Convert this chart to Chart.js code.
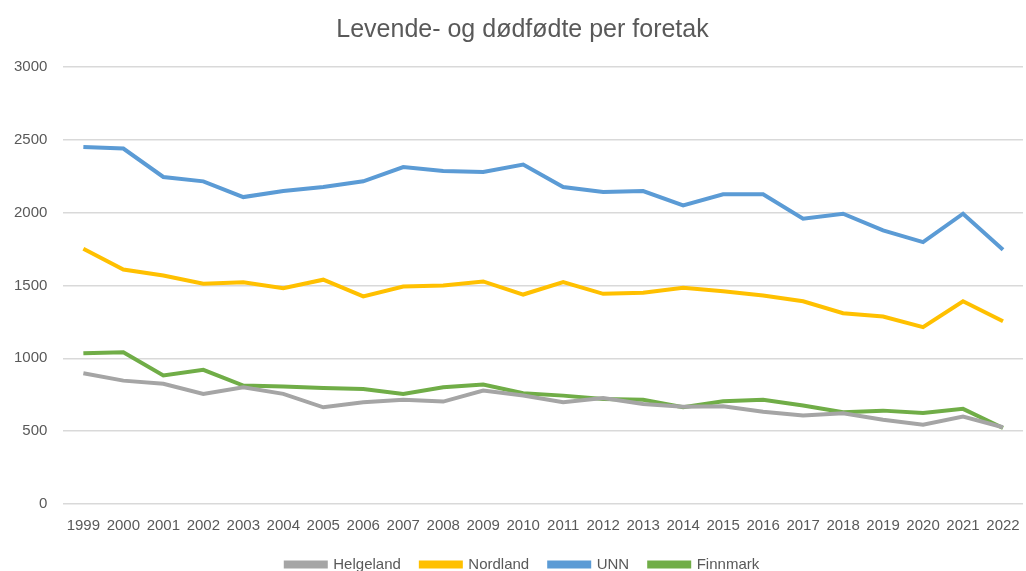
<!DOCTYPE html>
<html>
<head>
<meta charset="UTF-8">
<title>Levende- og dødfødte per foretak</title>
<script src="https://cdn.jsdelivr.net/npm/chart.js"></script>
<style>
  html, body { margin: 0; padding: 0; background: #fff; }
  #wrap { width: 1026px; height: 571px; position: relative; }
</style>
</head>
<body>
<div id="wrap"><canvas id="lineChart"></canvas></div>
<script>
    // årstall
    const years = ['1999','2000','2001','2002','2003','2004','2005','2006','2007','2008','2009','2010',
                   '2011','2012','2013','2014','2015','2016','2017','2018','2019','2020','2021','2022'];

    // fødsler per foretak
    const helgeland = [898, 847, 825, 756, 801, 756, 664, 698, 715, 703, 779, 745,
                       698, 728, 687, 668, 671, 634, 607, 623, 579, 545, 600, 527];
    const nordland  = [1752, 1610, 1569, 1512, 1523, 1482, 1540, 1425, 1493, 1500, 1528, 1438,
                       1523, 1443, 1450, 1485, 1461, 1432, 1392, 1310, 1287, 1214, 1392, 1255];
    const unn       = [2451, 2440, 2245, 2215, 2107, 2149, 2176, 2215, 2313, 2286, 2279, 2330,
                       2176, 2142, 2148, 2050, 2126, 2126, 1959, 1993, 1878, 1798, 1993, 1746];
    const finnmark  = [1035, 1042, 882, 921, 813, 806, 797, 790, 756, 801, 820, 760,
                       744, 721, 715, 664, 705, 715, 676, 630, 641, 625, 653, 522];

    const yTicks = [0, 500, 1000, 1500, 2000, 2500, 3000];

    const fontFamily = "'Liberation Sans', Arial, sans-serif";
    const textColor = '#595959';

    function serie(label, data, color) {
        return {
            label: label,
            data: data,
            borderColor: color,
            backgroundColor: color,
            borderWidth: 4,
            pointRadius: 0,
            pointHoverRadius: 0,
            tension: 0,
            fill: false
        };
    }

    // flytt tittel og legende litt mot høyre, som i Excel-figuren
    const shiftBoxes = {
        id: 'shiftBoxes',
        afterLayout: function(chart) {
            [chart.titleBlock, chart.legend].forEach(function(box) {
                if (box) { box.left += 12; box.right += 12; }
            });
        }
    };

    const config = {
        type: 'line',
        data: {
            labels: years,
            datasets: [
                serie('Helgeland', helgeland, '#A5A5A5'),
                serie('Nordland', nordland, '#FFC000'),
                serie('UNN', unn, '#5B9BD5'),
                serie('Finnmark', finnmark, '#70AD47')
            ]
        },
        options: {
            responsive: true,
            maintainAspectRatio: false,
            animation: false,
            layout: {
                padding: { left: -2, right: 3, top: 10, bottom: -11 }
            },
            plugins: {
                title: {
                    display: true,
                    text: 'Levende- og dødfødte per foretak',
                    color: textColor,
                    font: { family: fontFamily, size: 25, weight: 'normal' },
                    padding: { top: 5, bottom: 22 }
                },
                legend: {
                    position: 'bottom',
                    labels: {
                        color: textColor,
                        font: { family: fontFamily, size: 15 },
                        boxWidth: 40,
                        boxHeight: 4,
                        padding: 20
                    }
                },
                tooltip: { enabled: false }
            },
            scales: {
                x: {
                    offset: true,
                    grid: { display: false, drawTicks: false },
                    border: { display: false },
                    ticks: {
                        color: textColor,
                        font: { family: fontFamily, size: 15 },
                        autoSkip: false,
                        maxRotation: 0,
                        padding: 13
                    },
                    // trekk legenden nærmere årstallene, og ingen ekstra sidemarg
                    afterFit: function(scale) {
                        scale.height -= 11;
                        scale.paddingLeft = 0;
                        scale.paddingRight = 0;
                    }
                },
                y: {
                    min: 0,
                    max: 3000,
                    afterBuildTicks: function(axis) {
                        axis.ticks = yTicks.map(function(v) { return { value: v }; });
                    },
                    grid: { color: '#D9D9D9', lineWidth: 1.5, drawTicks: false },
                    border: { display: false },
                    ticks: {
                        color: textColor,
                        font: { family: fontFamily, size: 15 },
                        padding: 16,
                        callback: function(value) { return String(value); }
                    }
                }
            }
        },
        plugins: [shiftBoxes]
    };

    new Chart(document.getElementById('lineChart'), config);
</script>
</body>
</html>
